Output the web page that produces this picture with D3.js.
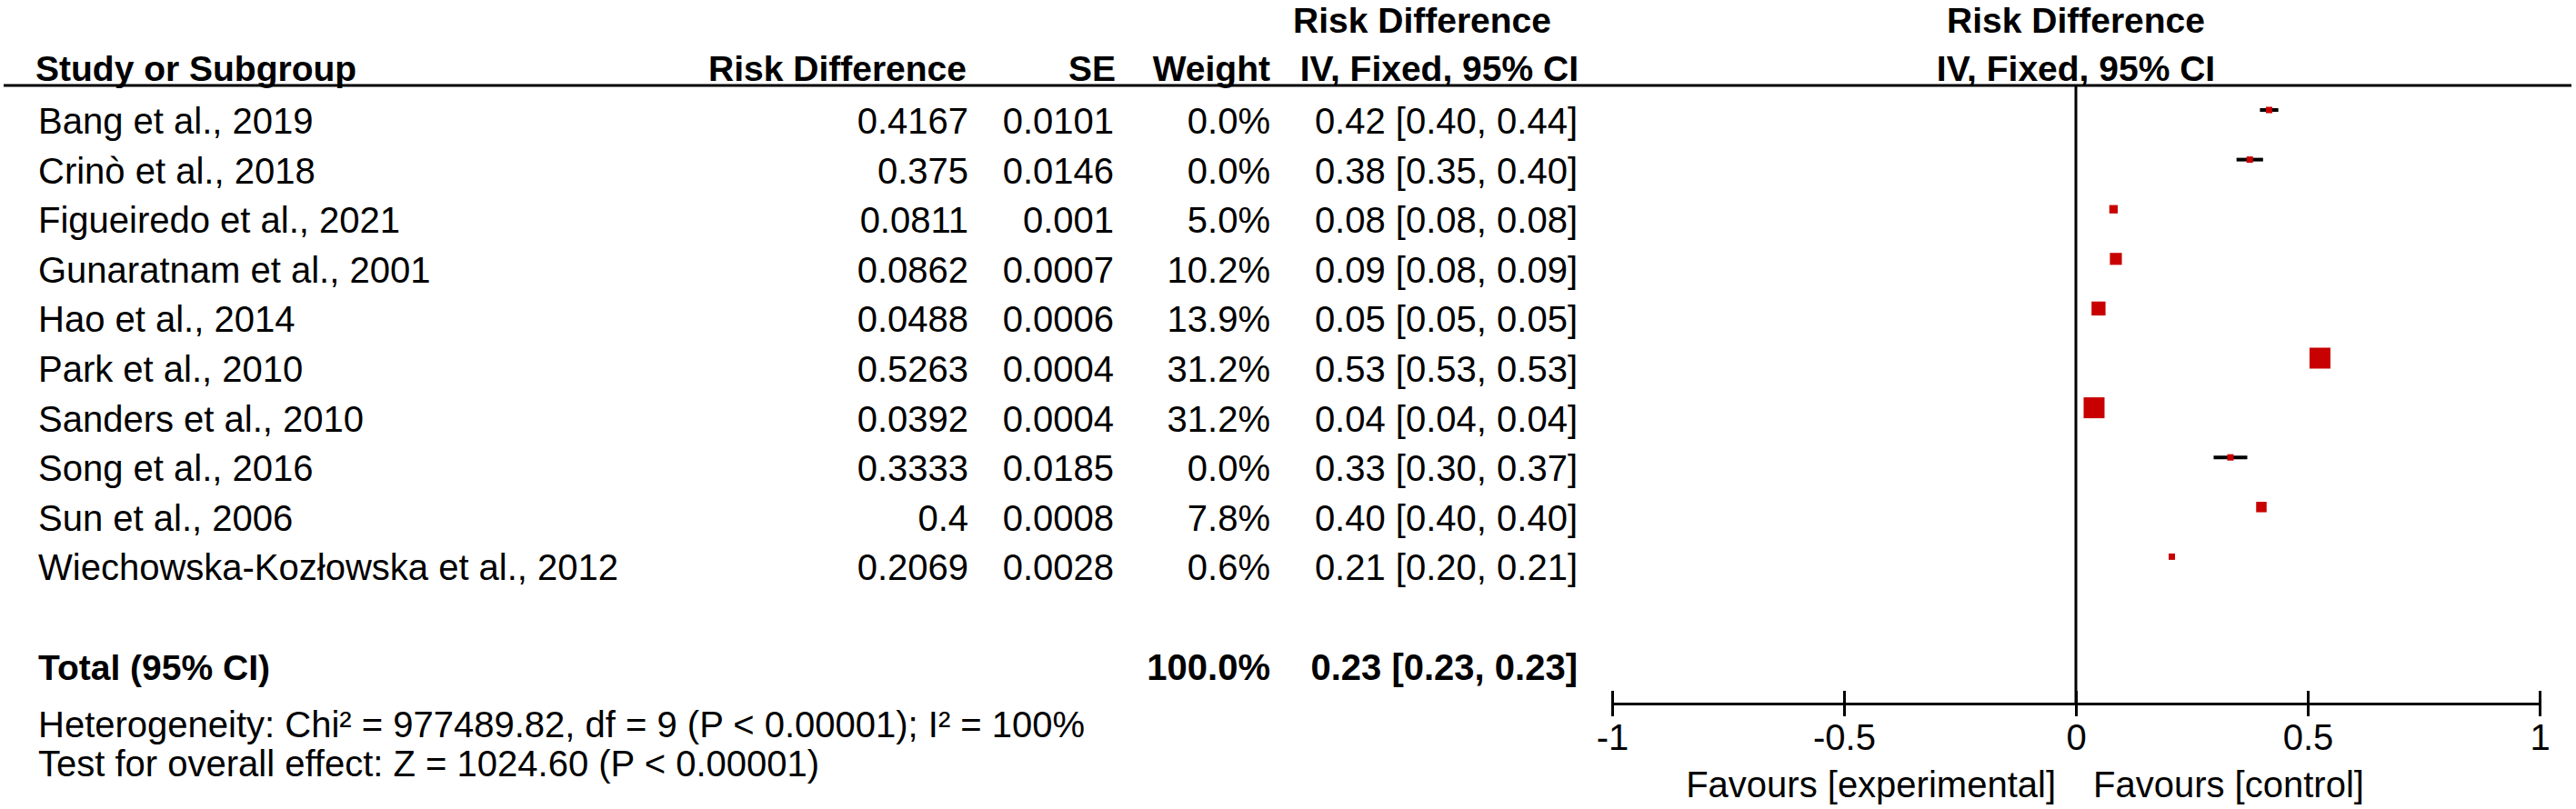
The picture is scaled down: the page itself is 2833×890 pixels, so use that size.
<!DOCTYPE html>
<html><head><meta charset="utf-8">
<script src="https://cdn.jsdelivr.net/npm/d3@7"></script>
<style>
body{margin:0;background:#fff;}
text{font-family:"Liberation Sans",Arial,sans-serif;fill:#000;}
</style>
</head><body>
<svg id="chart" width="2833" height="890"></svg>
<script>
// ---- data ----
const studies = ["Bang et al., 2019","Crinò et al., 2018","Figueiredo et al., 2021","Gunaratnam et al., 2001","Hao et al., 2014","Park et al., 2010","Sanders et al., 2010","Song et al., 2016","Sun et al., 2006","Wiechowska-Kozłowska et al., 2012"];
const riskDiff = [0.4167,0.375,0.0811,0.0862,0.0488,0.5263,0.0392,0.3333,0.4,0.2069];
const seValues = [0.0101,0.0146,0.001,0.0007,0.0006,0.0004,0.0004,0.0185,0.0008,0.0028];
const weightPct = [0.0,0.0,5.0,10.2,13.9,31.2,31.2,0.0,7.8,0.6];
const ciLow  = [0.3969,0.3464,0.0791,0.0848,0.0476,0.5255,0.0384,0.2970,0.3984,0.2014];
const ciHigh = [0.4365,0.4036,0.0831,0.0876,0.0500,0.5271,0.0400,0.3696,0.4016,0.2124];
const ciLabels = ["0.42 [0.40, 0.44]","0.38 [0.35, 0.40]","0.08 [0.08, 0.08]","0.09 [0.08, 0.09]","0.05 [0.05, 0.05]","0.53 [0.53, 0.53]","0.04 [0.04, 0.04]","0.33 [0.30, 0.37]","0.40 [0.40, 0.40]","0.21 [0.20, 0.21]"];
const totalLabel = "Total (95% CI)";
const totalWeight = "100.0%";
const totalCI = "0.23 [0.23, 0.23]";
const heterogeneity = "Heterogeneity: Chi² = 977489.82, df = 9 (P < 0.00001); I² = 100%";
const overallEffect = "Test for overall effect: Z = 1024.60 (P < 0.00001)";
const xTicks = [-1,-0.5,0,0.5,1];
const xDomain = [-1,1];
const favLeft = "Favours [experimental]";
const favRight = "Favours [control]";

// ---- layout ----
const svg = d3.select("#chart");
const FS = 40;
const x = d3.scaleLinear().domain(xDomain).range([1773,2793]);
const rowBase = d3.scaleLinear().domain([0,1]).range([147,201.6]); // text baselines
const markerOffset = -26;
const headerLineY = 94;
const axisY = 774;
const col = {study:42, rd:1065, se:1225, wt:1397, ci:1735};
const red = "#c80000";
const side = d3.scaleSqrt().domain([0,31.2]).range([0,23]);

// headers
const hdr = svg.append("g").attr("font-weight","bold").attr("font-size",39);
hdr.append("text").attr("x",39).attr("y",89).text("Study or Subgroup");
hdr.append("text").attr("x",1063).attr("y",89).attr("text-anchor","end").text("Risk Difference");
hdr.append("text").attr("x",1227).attr("y",89).attr("text-anchor","end").text("SE");
hdr.append("text").attr("x",1397).attr("y",89).attr("text-anchor","end").text("Weight");
hdr.append("text").attr("x",1422).attr("y",36).text("Risk Difference");
hdr.append("text").attr("x",1736).attr("y",89).attr("text-anchor","end").text("IV, Fixed, 95% CI");
hdr.append("text").attr("x",x(0)).attr("y",36).attr("text-anchor","middle").text("Risk Difference");
hdr.append("text").attr("x",x(0)).attr("y",89).attr("text-anchor","middle").text("IV, Fixed, 95% CI");

svg.append("line").attr("x1",4).attr("x2",2828).attr("y1",headerLineY).attr("y2",headerLineY)
  .attr("stroke","#000").attr("stroke-width",3);

// rows
const idx = d3.range(studies.length);
const rows = svg.append("g").attr("font-size",FS);
rows.selectAll(".s").data(idx).join("text").attr("x",col.study).attr("y",i=>rowBase(i)).text(i=>studies[i]);
rows.selectAll(".rd").data(idx).join("text").attr("x",col.rd).attr("y",i=>rowBase(i)).attr("text-anchor","end").text(i=>String(riskDiff[i]));
rows.selectAll(".se").data(idx).join("text").attr("x",col.se).attr("y",i=>rowBase(i)).attr("text-anchor","end").text(i=>String(seValues[i]));
rows.selectAll(".wt").data(idx).join("text").attr("x",col.wt).attr("y",i=>rowBase(i)).attr("text-anchor","end").text(i=>weightPct[i].toFixed(1)+"%");
rows.selectAll(".ci").data(idx).join("text").attr("x",col.ci).attr("y",i=>rowBase(i)).attr("text-anchor","end").text(i=>ciLabels[i]);

// total row
const tot = svg.append("g").attr("font-size",FS).attr("font-weight","bold");
const totalRow = 11;
tot.append("text").attr("x",col.study).attr("y",rowBase(totalRow)).attr("font-size",39).text(totalLabel);
tot.append("text").attr("x",col.wt).attr("y",rowBase(totalRow)).attr("text-anchor","end").text(totalWeight);
tot.append("text").attr("x",col.ci).attr("y",rowBase(totalRow)).attr("text-anchor","end").text(totalCI);

svg.append("text").attr("font-size",FS).attr("x",col.study).attr("y",811).text(heterogeneity);
svg.append("text").attr("font-size",FS).attr("x",col.study).attr("y",854).text(overallEffect);

// zero line
svg.append("line").attr("x1",x(0)).attr("x2",x(0)).attr("y1",headerLineY).attr("y2",axisY)
  .attr("stroke","#000").attr("stroke-width",3);

// CI lines and squares
const plot = svg.append("g");
plot.selectAll(".cil").data(idx).join("line")
  .attr("x1",i=>x(ciLow[i])).attr("x2",i=>x(ciHigh[i]))
  .attr("y1",i=>rowBase(i)+markerOffset).attr("y2",i=>rowBase(i)+markerOffset)
  .attr("stroke","#000").attr("stroke-width",4);
plot.selectAll(".sq").data(idx).join("rect")
  .attr("fill",red)
  .attr("width",i=>Math.max(7,side(weightPct[i])))
  .attr("height",i=>Math.max(7,side(weightPct[i])))
  .attr("x",i=>x(riskDiff[i])-Math.max(7,side(weightPct[i]))/2)
  .attr("y",i=>rowBase(i)+markerOffset-Math.max(7,side(weightPct[i]))/2);

// axis
const axis = d3.axisBottom(x).tickValues(xTicks).tickSizeOuter(0).tickSize(14).tickFormat(d=>String(d));
const ag = svg.append("g").attr("transform",`translate(0,${axisY})`).call(axis);
ag.select(".domain").attr("stroke","#000").attr("stroke-width",3);
ag.selectAll(".tick line").attr("y1",-14).attr("y2",14).attr("stroke","#000").attr("stroke-width",3);
ag.selectAll(".tick text").attr("y",51).attr("dy",null)
  .attr("font-size",FS).attr("font-family","Liberation Sans, Arial, sans-serif").attr("fill","#000");

svg.append("text").attr("font-size",FS).attr("x",x(0)-22).attr("y",877).attr("text-anchor","end").text(favLeft);
svg.append("text").attr("font-size",FS).attr("x",x(0)+19).attr("y",877).text(favRight);
</script>
</body></html>
